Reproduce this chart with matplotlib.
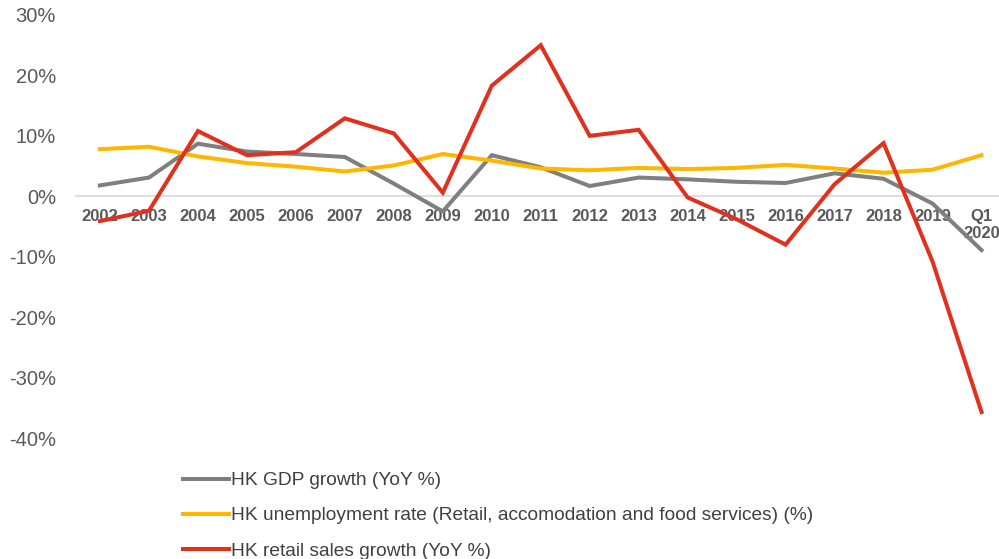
import matplotlib
import matplotlib.pyplot as plt
from matplotlib import font_manager

matplotlib.use("Agg")

CATEGORIES = ["2002", "2003", "2004", "2005", "2006", "2007", "2008", "2009", "2010",
              "2011", "2012", "2013", "2014", "2015", "2016", "2017", "2018", "2019",
              "Q1\n2020"]

GDP_GROWTH = [1.8, 3.1, 8.7, 7.4, 7.0, 6.5, 2.1, -2.5, 6.8,
              4.8, 1.7, 3.1, 2.8, 2.4, 2.2, 3.8, 2.9, -1.2, -8.9]
UNEMPLOYMENT = [7.8, 8.2, 6.6, 5.5, 4.9, 4.1, 5.1, 7.0, 5.9,
                4.6, 4.3, 4.7, 4.5, 4.7, 5.2, 4.6, 3.9, 4.4, 6.8]
RETAIL_SALES = [-4.1, -2.4, 10.8, 6.8, 7.3, 12.9, 10.4, 0.6, 18.3,
                25.0, 10.0, 11.0, -0.2, -3.8, -8.0, 2.0, 8.8, -10.8, -35.7]

SERIES = [
    ("HK GDP growth (YoY %)", GDP_GROWTH, "#7f7f7f"),
    ("HK unemployment rate (Retail, accomodation and food services) (%)", UNEMPLOYMENT, "#ffb600"),
    ("HK retail sales growth (YoY %)", RETAIL_SALES, "#e0301e"),
]

Y_TICKS = [-40, -30, -20, -10, 0, 10, 20, 30]

installed = {f.name for f in font_manager.fontManager.ttflist}
if "Liberation Sans Narrow" in installed:
    legend_font = {"family": "Liberation Sans Narrow", "size": 16.5}
else:
    legend_font = {"family": "Liberation Sans", "size": 13.8}

plt.rcParams["font.family"] = ["Liberation Sans", "DejaVu Sans"]

fig = plt.figure(figsize=(9.99, 5.59), dpi=100)
ax = fig.add_axes([75.5 / 999, 1 - 438 / 559, 930.5 / 999, 423 / 559])

x = list(range(len(CATEGORIES)))
for label, values, color in SERIES:
    ax.plot(x, values, color=color, lw=2.9, label=label, solid_joinstyle="miter")

ax.set_xlim(-0.5, len(CATEGORIES) - 0.5)
ax.set_ylim(-40, 30)
ax.set_yticks(Y_TICKS)
ax.set_yticklabels([f"{t}%" for t in Y_TICKS])
ax.set_xticks(x)
ax.set_xticklabels(CATEGORIES)

for side in ["top", "right", "left"]:
    ax.spines[side].set_visible(False)
ax.spines["bottom"].set_position(("data", 0))
ax.spines["bottom"].set_color("#d9d9d9")
ax.spines["bottom"].set_linewidth(1.2)
ax.spines["bottom"].set_zorder(0)

ax.tick_params(axis="y", length=0, pad=14, labelsize=14.5, labelcolor="#595959")
ax.tick_params(axis="x", length=0, pad=9, labelsize=12, labelcolor="#595959")
for tick_label in ax.get_xticklabels():
    tick_label.set_fontweight("bold")

fig.legend(
    loc="upper left",
    bbox_to_anchor=(183 / 999, 1 - 472 / 559),
    frameon=False,
    prop=legend_font,
    labelcolor="#404040",
    handlelength=2.4,
    handletextpad=0.1,
    labelspacing=0.92,
    borderpad=0,
    borderaxespad=0,
)

fig.savefig("out.png", dpi=100)
plt.close(fig)
